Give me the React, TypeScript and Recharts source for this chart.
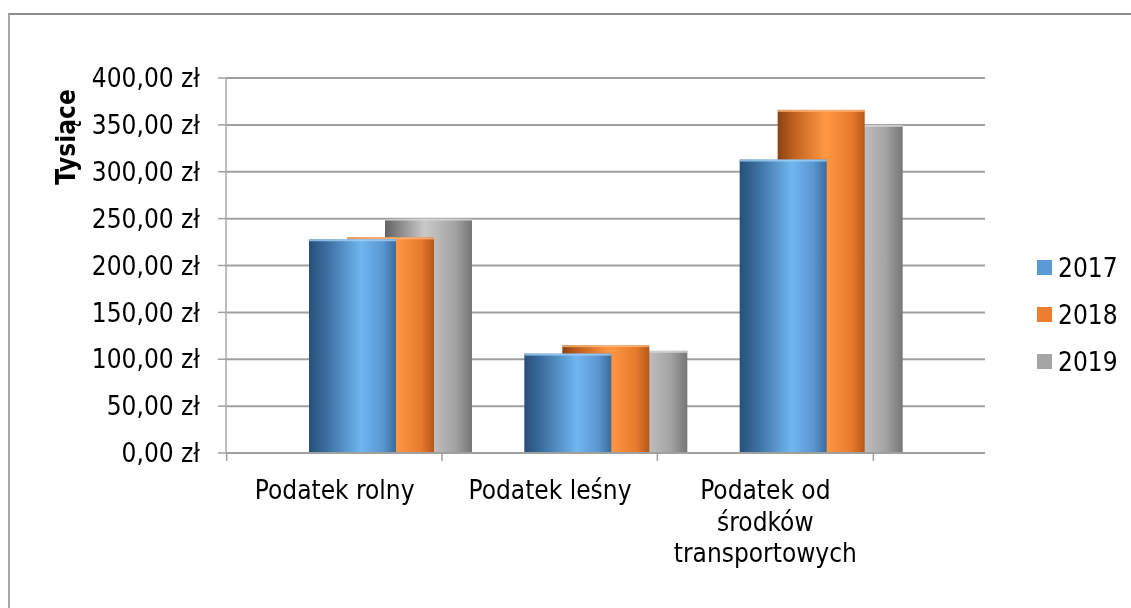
import React from "react";
import { BarChart, Bar, XAxis, YAxis, CartesianGrid, Legend } from "recharts";

const categories = ["Podatek rolny", "Podatek leśny", "Podatek od środków transportowych"];
const values2017 = [228, 106, 313];
const values2018 = [230, 115, 366];
const values2019 = [250, 109, 350];
const yTicks = [0, 50, 100, 150, 200, 250, 300, 350, 400];
const seriesNames = ["2017", "2018", "2019"];
const legendColors = ["#5b9bd5", "#ed7d31", "#a5a5a5"];

const data = categories.map((c, i) => ({
  name: c,
  y2017: values2017[i],
  y2018: values2018[i],
  y2019: values2019[i],
}));

const FONT = "'DejaVu Sans Condensed', 'DejaVu Sans', Verdana, sans-serif";

function wrap(label: string, max: number): string[] {
  const words = label.split(" ");
  const lines: string[] = [];
  let cur = "";
  for (const w of words) {
    const next = cur ? cur + " " + w : w;
    if (next.length > max && cur) {
      lines.push(cur);
      cur = w;
    } else cur = next;
  }
  if (cur) lines.push(cur);
  return lines;
}

const CategoryTick = (props: any) => {
  const { x, y, payload, index } = props;
  const lines = wrap(String(payload.value), 13);
  const isLast = index === categories.length - 1;
  return (
    <g>
      <line x1={x - 164} x2={x - 164} y1={y} y2={y + 8} stroke="#a0a0a0" strokeWidth={1.5} />
      {isLast && <line x1={x + 52} x2={x + 52} y1={y} y2={y + 8} stroke="#a0a0a0" strokeWidth={1.5} />}
      {lines.map((l, i) => (
        <text
          key={i}
          x={x - 56}
          y={y + 37 + i * 31.5}
          textAnchor="middle"
          dominantBaseline="central"
          fontFamily={FONT}
          fontStretch="condensed"
          fontSize={26}
          fill="#000"
        >
          {l}
        </text>
      ))}
    </g>
  );
};

const makeShape = (top: string) => (props: any) => {
  const { x, y, width, height, fill } = props;
  if (!height || height <= 0) return null;
  return (
    <g>
      <rect x={x} y={y} width={width} height={height} fill={fill} />
      <rect x={x} y={y} width={width} height={2} fill={top} opacity={0.8} />
    </g>
  );
};

const LegendContent = () => (
  <div style={{ fontFamily: FONT, fontStretch: "condensed", fontSize: 26, color: "#000" }}>
    {seriesNames.map((n, i) => (
      <div key={n} style={{ display: "flex", alignItems: "center", height: 47 }}>
        <span style={{ display: "inline-block", width: 15, height: 15, background: legendColors[i], marginRight: 6 }} />
        <span>{n}</span>
      </div>
    ))}
  </div>
);

export default function App() {
  return (
    <div style={{ position: "relative", width: 1123, height: 592, background: "#fff" }}>
      <div
        style={{
          position: "fixed",
          left: 8,
          top: 13,
          width: 1200,
          height: 700,
          borderTop: "2px solid #8c8c8c",
          borderLeft: "2px solid #a8a8a8",
          pointerEvents: "none",
        }}
      />
      <BarChart
        width={1123}
        height={592}
        data={data}
        margin={{ top: 70, right: 146, bottom: 0, left: 0 }}
        barSize={87}
        barGap={-125}
      >
        <defs>
          <linearGradient id="gBlue" x1="0" y1="0" x2="1" y2="0">
            <stop offset="0%" stopColor="#27507a" />
            <stop offset="20%" stopColor="#3a6e9f" />
            <stop offset="60%" stopColor="#70b6f0" />
            <stop offset="85%" stopColor="#5a96d0" />
            <stop offset="100%" stopColor="#3b6c9c" />
          </linearGradient>
          <linearGradient id="gOrange" x1="0" y1="0" x2="1" y2="0">
            <stop offset="0%" stopColor="#8a4214" />
            <stop offset="20%" stopColor="#c4631f" />
            <stop offset="55%" stopColor="#ff9844" />
            <stop offset="85%" stopColor="#e77a2c" />
            <stop offset="100%" stopColor="#b5581a" />
          </linearGradient>
          <linearGradient id="gGray" x1="0" y1="0" x2="1" y2="0">
            <stop offset="0%" stopColor="#626262" />
            <stop offset="20%" stopColor="#909090" />
            <stop offset="45%" stopColor="#c9c9c9" />
            <stop offset="80%" stopColor="#a4a4a4" />
            <stop offset="100%" stopColor="#767676" />
          </linearGradient>
        </defs>
        <CartesianGrid vertical={false} stroke="#a0a0a0" strokeWidth={2} />
        <XAxis
          dataKey="name"
          height={147}
          padding={{ left: 57, right: 56 }}
          axisLine={{ stroke: "#a0a0a0", strokeWidth: 2 }}
          tickLine={false}
          tickSize={0}
          tickMargin={0}
          interval={0}
          tick={<CategoryTick />}
        />
        <YAxis
          width={218}
          domain={[0, 400]}
          ticks={yTicks}
          interval={0}
          axisLine={{ stroke: "#a8a8a8", strokeWidth: 1.5 }}
          tickLine={{ stroke: "#a0a0a0", strokeWidth: 1.5 }}
          tickSize={8}
          tickMargin={18}
          tick={{ fontFamily: FONT, fontStretch: "condensed", fontSize: 26, fill: "#000" }}
          tickFormatter={(v: number) => v.toFixed(2).replace(".", ",") + " zł"}
          label={{
            content: (p: any) => {
              const vb = p.viewBox || { x: 0, y: 70 };
              return (
                <text
                  x={vb.x + 58}
                  y={vb.y + 59}
                  transform={`rotate(-90 ${vb.x + 58} ${vb.y + 59})`}
                  textAnchor="middle"
                  dominantBaseline="central"
                  fontFamily={FONT}
                  fontStretch="condensed"
                  fontWeight="bold"
                  fontSize={26}
                  fill="#000"
                >
                  Tysiące
                </text>
              );
            },
          }}
        />
        <Legend
          layout="vertical"
          align="center"
          verticalAlign="middle"
          content={<LegendContent />}
          wrapperStyle={{ left: 1029, top: 236, width: 95 }}
        />
        <Bar dataKey="y2019" name="2019" fill="url(#gGray)" shape={makeShape("#d8d8d8")} isAnimationActive={false} />
        <Bar dataKey="y2018" name="2018" fill="url(#gOrange)" shape={makeShape("#ffb57a")} isAnimationActive={false} />
        <Bar dataKey="y2017" name="2017" fill="url(#gBlue)" shape={makeShape("#9fd0f7")} isAnimationActive={false} />
      </BarChart>
    </div>
  );
}
